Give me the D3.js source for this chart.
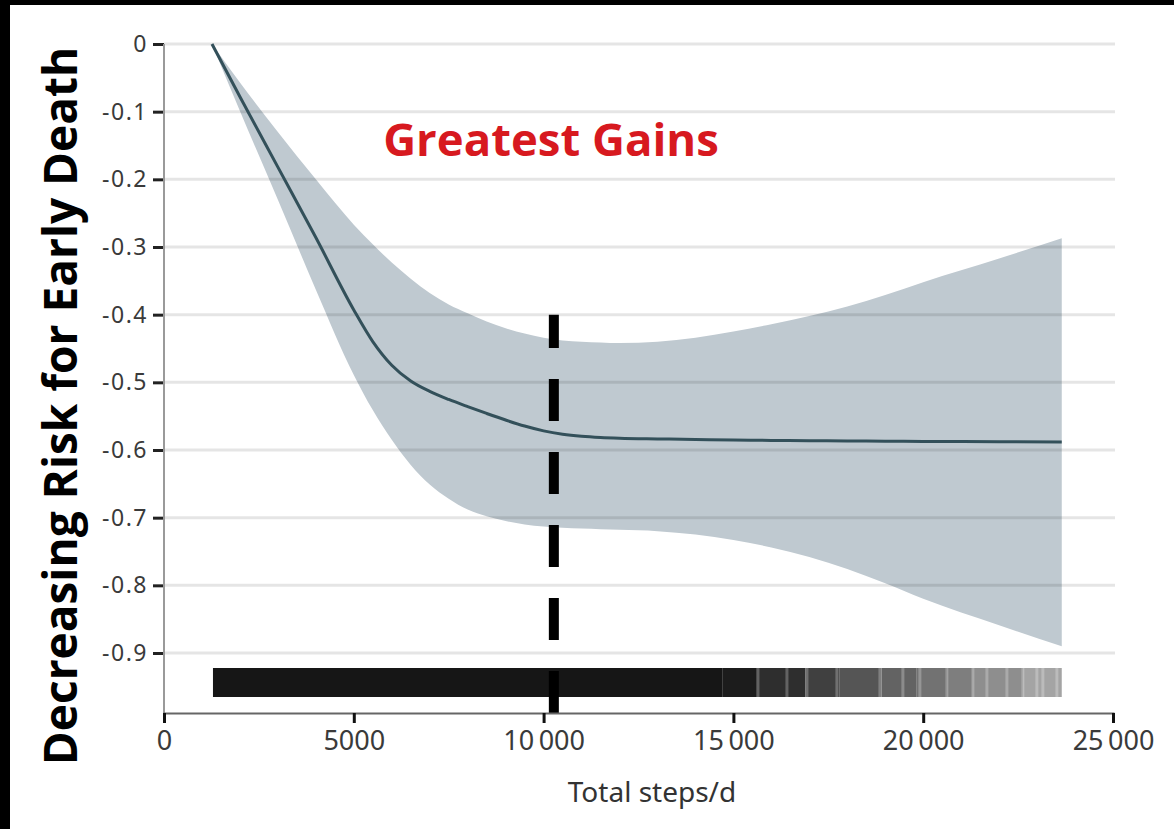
<!DOCTYPE html>
<html>
<head>
<meta charset="utf-8">
<script src="https://cdn.jsdelivr.net/npm/d3@7"></script>
<style>
  html, body { margin: 0; padding: 0; background: #fff; }
  svg { display: block; }
</style>
</head>
<body>
<svg id="chart" width="1174" height="829"></svg>
<script>
// Dose-response of daily step count vs. risk for early death
const steps    = [1264, 2000, 3000, 4000, 5000, 5500, 6000, 6500, 7000, 7500, 8000, 8500, 9000, 9500, 10000, 10500, 11000, 11500, 12000, 13000, 14000, 15000, 16000, 17000, 18000, 19000, 20000, 22000, 23650];
const estimate = [0, -0.078, -0.182, -0.286, -0.393, -0.4397, -0.4747, -0.498, -0.5133, -0.5253, -0.5359, -0.546, -0.5557, -0.5646, -0.5717, -0.5766, -0.5796, -0.5814, -0.5825, -0.5836, -0.5845, -0.5852, -0.5858, -0.5863, -0.5867, -0.587, -0.5873, -0.5877, -0.588];
const upperCI  = [0, -0.057, -0.13, -0.2, -0.267, -0.296, -0.323, -0.347, -0.368, -0.385, -0.398, -0.41, -0.42, -0.428, -0.434, -0.438, -0.44, -0.441, -0.442, -0.44, -0.434, -0.425, -0.414, -0.402, -0.388, -0.371, -0.352, -0.317, -0.287];
const lowerCI  = [0, -0.099, -0.23, -0.363, -0.489, -0.541, -0.585, -0.622, -0.651, -0.672, -0.688, -0.698, -0.705, -0.71, -0.713, -0.715, -0.716, -0.717, -0.718, -0.72, -0.725, -0.733, -0.744, -0.758, -0.776, -0.797, -0.82, -0.859, -0.89];

const yTicks = [0, -0.1, -0.2, -0.3, -0.4, -0.5, -0.6, -0.7, -0.8, -0.9];
const xTicks = [0, 5000, 10000, 15000, 20000, 25000];

// rug of observed step counts: shaded runs [from, to, shade] plus lighter gaps
const rugSegments = [
  [1290, 14720, "#141414"],
  [14720, 15620, "#1c1c1c"],
  [15620, 16900, "#2e2e2e"],
  [16900, 17800, "#404040"],
  [17800, 18900, "#555555"],
  [18900, 19830, "#646464"],
  [19830, 20650, "#727272"],
  [20650, 21310, "#7e7e7e"],
  [21310, 22630, "#8e8e8e"],
  [22630, 23650, "#a4a4a4"]
];
const rugGaps = [15646, 16410, 16937, 17727, 18860, 19465, 19913, 20624, 21309, 21678, 22205, 22626, 22995, 23153, 23522];

const threshold = 10270;   // steps/d where gains level off
const thresholdTop = -0.4;

const svg = d3.select("#chart");
const W = 1174, H = 829;

// frame
svg.append("rect").attr("width", W).attr("height", H).attr("fill", "#fff");
svg.append("rect").attr("x", 0).attr("y", 0).attr("width", 10).attr("height", H).attr("fill", "#000");
svg.append("rect").attr("x", 0).attr("y", 0).attr("width", W).attr("height", 5).attr("fill", "#000");

const x = d3.scaleLinear().domain([0, 25000]).range([164, 1113]);
const y = d3.scaleLinear().domain([-0.9, 0]).range([653, 44]);
const xAxisY = 713;
const gridRight = 1115;

const data = steps.map((s, i) => ({ s, est: estimate[i], lo: lowerCI[i], hi: upperCI[i] }));

// confidence band
const area = d3.area()
  .x(d => x(d.s))
  .y0(d => y(d.lo))
  .y1(d => y(d.hi))
  .curve(d3.curveMonotoneX);
svg.append("path").datum(data).attr("d", area).attr("fill", "#bfc9d0");

// gridlines
svg.append("g").selectAll("line").data(yTicks).join("line")
  .attr("x1", x(0)).attr("x2", gridRight)
  .attr("y1", d => y(d)).attr("y2", d => y(d))
  .attr("stroke", "rgba(0,0,0,0.1)").attr("stroke-width", 3);

// estimate line
const line = d3.line().x(d => x(d.s)).y(d => y(d.est)).curve(d3.curveMonotoneX);
svg.append("path").datum(data).attr("d", line)
  .attr("fill", "none").attr("stroke", "#33505a").attr("stroke-width", 3);

// rug strip
const defs = svg.append("defs");
defs.append("filter").attr("id", "soft")
  .append("feGaussianBlur").attr("stdDeviation", 0.6);
const rug = svg.append("g").attr("filter", "url(#soft)");
rug.selectAll("rect").data(rugSegments).join("rect")
  .attr("x", d => x(d[0])).attr("width", d => x(d[1]) - x(d[0]))
  .attr("y", 668).attr("height", 29)
  .attr("fill", d => d[2]);
rug.selectAll("line").data(rugGaps).join("line")
  .attr("x1", d => x(d)).attr("x2", d => x(d))
  .attr("y1", 668).attr("y2", 697)
  .attr("stroke", "rgba(255,255,255,0.25)").attr("stroke-width", 3);

// threshold marker, dashed up from the axis
svg.append("line")
  .attr("x1", x(threshold)).attr("x2", x(threshold))
  .attr("y1", xAxisY).attr("y2", y(thresholdTop))
  .attr("stroke", "#000").attr("stroke-width", 10)
  .attr("stroke-dasharray", "42 31");

// y axis
const yAxis = svg.append("g").attr("transform", `translate(${x(0)},0)`)
  .call(d3.axisLeft(y).tickValues(yTicks).tickSize(11).tickPadding(5)
    .tickFormat(d => d === 0 ? "0" : d3.format(".1f")(d).replace("−", "-")));
yAxis.select(".domain").remove();
yAxis.selectAll(".tick line").attr("stroke", "#222").attr("stroke-width", 3);
yAxis.selectAll(".tick text").attr("font-family", "'Noto Sans', sans-serif")
  .attr("font-size", 23).attr("letter-spacing", 1.5).attr("fill", "#3a3a3a");
svg.append("line").attr("x1", x(0)).attr("x2", x(0)).attr("y1", y(0)).attr("y2", xAxisY)
  .attr("stroke", "#9a9a9a").attr("stroke-width", 2);

// x axis
const fmtX = d => d >= 10000 ? d3.format("d")(d).replace(/(\d+)(\d{3})$/, "$1\u2009$2") : String(d);
const xAxis = svg.append("g").attr("transform", `translate(0,${xAxisY})`)
  .call(d3.axisBottom(x).tickValues(xTicks).tickSize(10).tickPadding(8).tickFormat(fmtX));
xAxis.select(".domain").attr("stroke", "#666").attr("stroke-width", 2);
xAxis.selectAll(".tick line").attr("stroke", "#111").attr("stroke-width", 3);
xAxis.selectAll(".tick text").attr("font-family", "'Noto Sans', sans-serif")
  .attr("font-size", 27).attr("fill", "#3a3a3a");

// axis titles
svg.append("text").attr("x", 652).attr("y", 802).attr("text-anchor", "middle")
  .attr("font-family", "'Noto Sans', sans-serif").attr("font-size", 28).attr("fill", "#333")
  .text("Total steps/d");

svg.append("text")
  .attr("transform", "translate(77,406) rotate(-90)")
  .attr("text-anchor", "middle")
  .attr("font-family", "'Open Sans', sans-serif").attr("font-weight", 700)
  .attr("font-size", 46).attr("fill", "#000")
  .text("Decreasing Risk for Early Death");

// annotation
svg.append("text").attr("x", 551).attr("y", 156).attr("text-anchor", "middle")
  .attr("font-family", "'Open Sans', sans-serif").attr("font-weight", 700)
  .attr("font-size", 45.5).attr("fill", "#d7191f")
  .text("Greatest Gains");
</script>
</body>
</html>
